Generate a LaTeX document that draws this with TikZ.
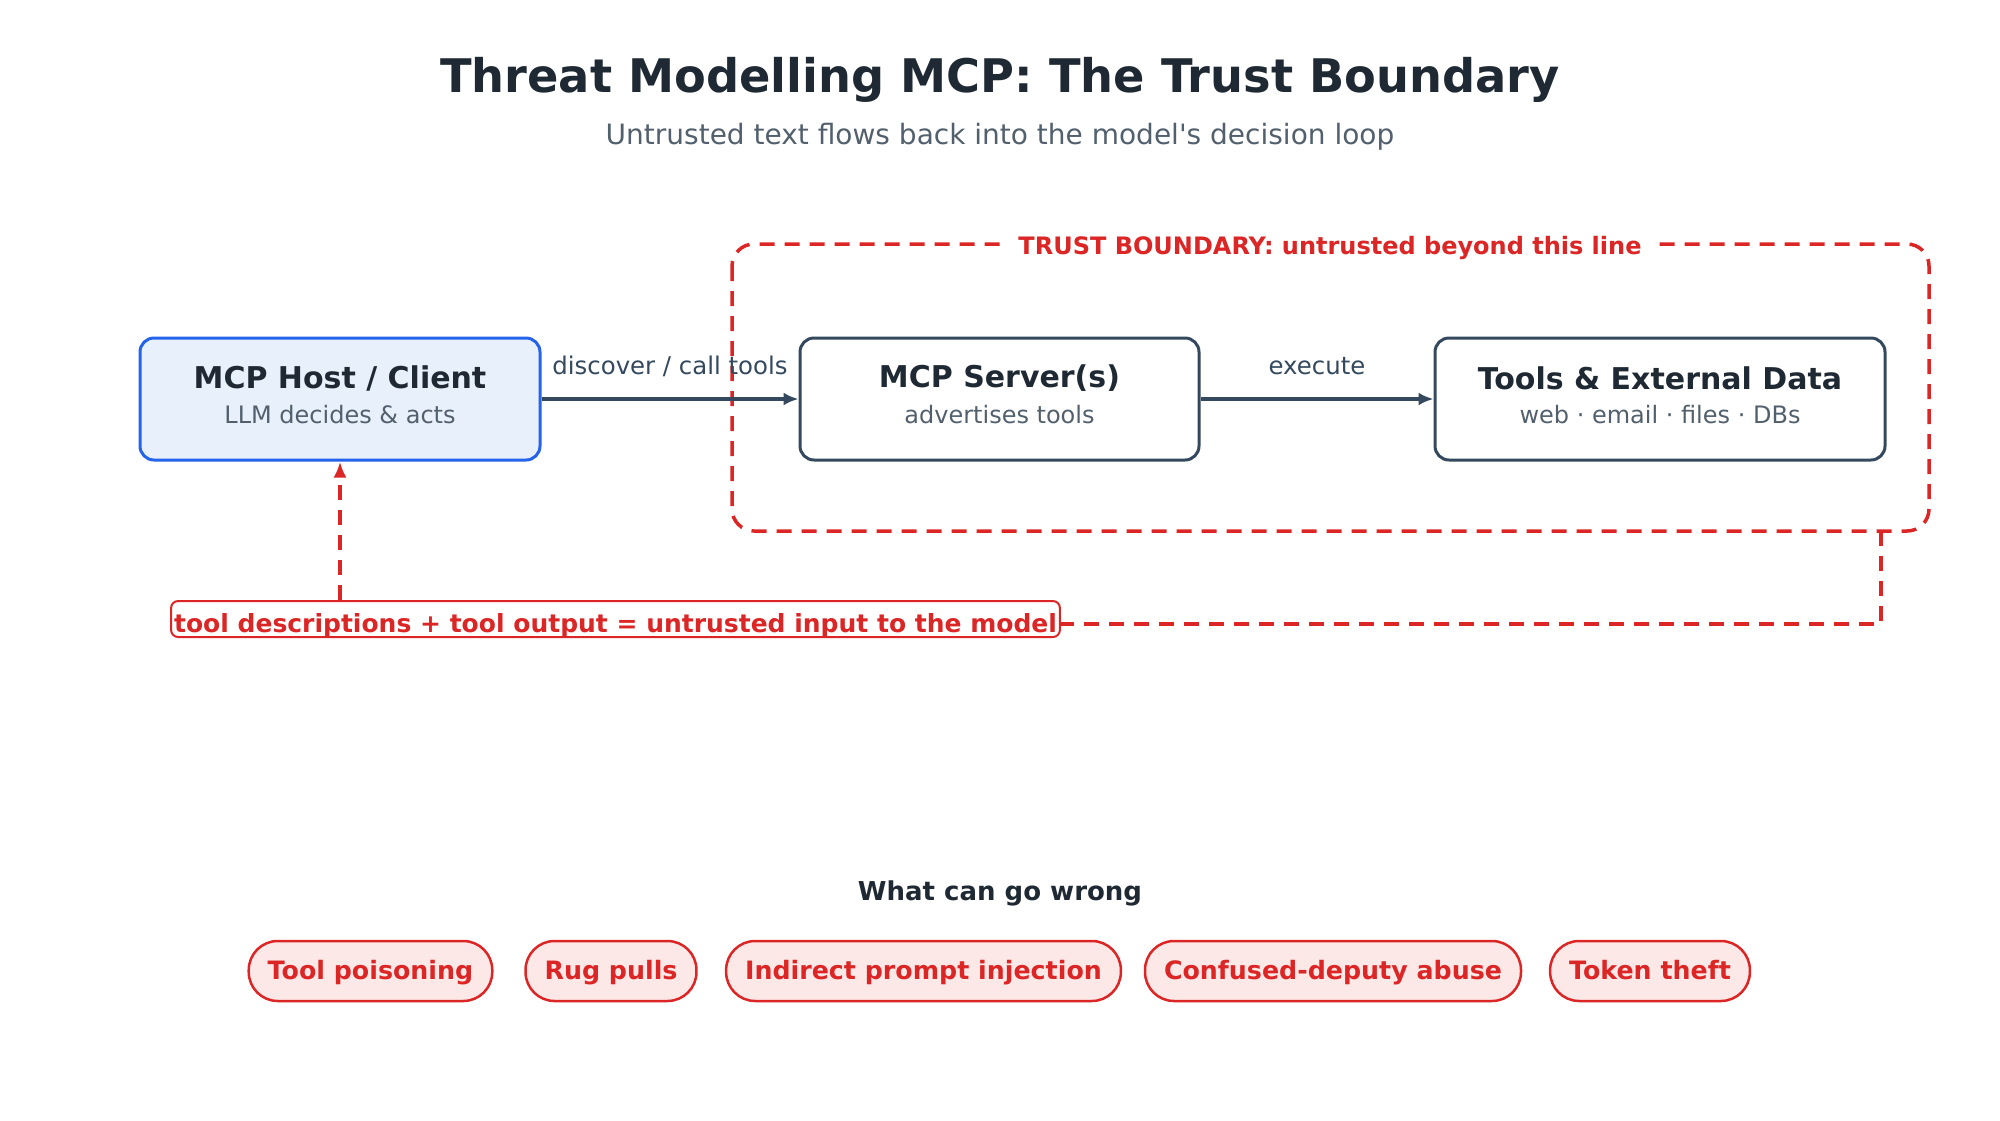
\documentclass[tikz,border=0pt]{standalone}
\usepackage{fontspec}
\setmainfont{DejaVu Sans}
\newfontfamily\rawfont{DejaVu Sans}
\usetikzlibrary{arrows.meta}
\definecolor{ink}{HTML}{1F2933}
\definecolor{subgray}{HTML}{52606D}
\definecolor{slate}{HTML}{34495E}
\definecolor{hostblue}{HTML}{2563EB}
\definecolor{hostfill}{HTML}{E8F0FC}
\definecolor{alert}{HTML}{DC2626}
\definecolor{pillfill}{HTML}{FDE8E8}
\newcommand{\fs}[1]{\fontsize{#1}{#1}\selectfont}
\tikzset{
  box/.style={draw=slate, line width=3pt, fill=white, rounded corners=14pt,
    minimum height=122pt, align=center},
  flow/.style={draw=slate, line width=3.5pt, -{Latex[length=15pt,width=13pt]}},
  flowlbl/.style={text=slate, font=\fs{24.4}},
  riskpill/.style={draw=alert, line width=2.5pt, fill=pillfill, rounded corners=29pt,
    minimum height=60pt, inner xsep=19pt, text=alert, font=\bfseries\fs{25.3},
    text height=19pt, text depth=3pt},
  redash/.style={draw=alert, line width=3.5pt, dash pattern=on 15pt off 10pt},
}
\begin{document}
\begin{tikzpicture}[x=1pt,y=-1pt]
\useasboundingbox (0,0) rectangle (2000,1120);
% titles
\node[text=ink, font=\bfseries\fs{46.3}] (title) at (1000,80) {Threat Modelling MCP: The Trust Boundary};
\node[text=subgray, font=\fs{28}] (subtitle) at (1000,137) {Untrusted text flows back into the model{\rawfont '}s decision loop};
% trust boundary
\draw[redash, rounded corners=22pt] (732,244) rectangle (1929,531);
\node[fill=white, text=alert, font=\bfseries\fs{24}, inner xsep=14pt] (tblabel) at (1330,248) {TRUST BOUNDARY: untrusted beyond this line};
% boxes
\node[box, draw=hostblue, fill=hostfill, minimum width=400pt] (host) at (340,399) {};
\node[text=ink, font=\bfseries\fs{30}] (hostt) at (340,378) {MCP Host / Client};
\node[text=subgray, font=\fs{24}] (hosts) at (340,415) {LLM decides \& acts};
\node[box, minimum width=399pt] (server) at (999.5,399) {};
\node[text=ink, font=\bfseries\fs{30}] (servert) at (999.5,378) {MCP Server(s)};
\node[text=subgray, font=\fs{24}] (servers) at (999.5,415) {advertises tools};
\node[box, minimum width=450pt] (tools) at (1660,399) {};
\node[text=ink, font=\bfseries\fs{30}] (toolst) at (1660,378) {Tools \& External Data};
\node[text=subgray, font=\fs{24}] (toolss) at (1660,415) {web · email · files · DBs};
% flows
\draw[flow] (host) -- (server);
\draw[flow] (server) -- (tools);
\node[flowlbl] (l1) at (670,366) {discover / call tools};
\node[flowlbl] (l2) at (1317,366) {execute};
% feedback
\coordinate (fbstart) at (1881,531);
\coordinate (fbcorner) at (1881,624);
\node[draw=alert, line width=2pt, fill=white, rounded corners=7pt, text=alert,
  font=\bfseries\fs{25}, inner xsep=3pt, inner ysep=1pt, text height=30pt, text depth=4pt,
  anchor=north] (fblabel) at (615.5,600) {tool descriptions + tool output = untrusted input to the model};
\draw[redash] (fbstart) -- (fbcorner) -- (fbcorner -| fblabel.east);
\draw[redash, -{Latex[length=16pt,width=13pt]}] (fblabel.north -| host) -- (host.south);
% what can go wrong
\node[text=ink, font=\bfseries\fs{26}] (wrong) at (1000,893) {What can go wrong};
\node[riskpill] (p1) at (370.5,971) {Tool poisoning};
\node[riskpill] (p2) at (611,971) {Rug pulls};
\node[riskpill] (p3) at (923.5,971) {Indirect prompt injection};
\node[riskpill] (p4) at (1333,971) {Confused-deputy abuse};
\node[riskpill] (p5) at (1650,971) {Token theft};
\end{tikzpicture}
\end{document}
